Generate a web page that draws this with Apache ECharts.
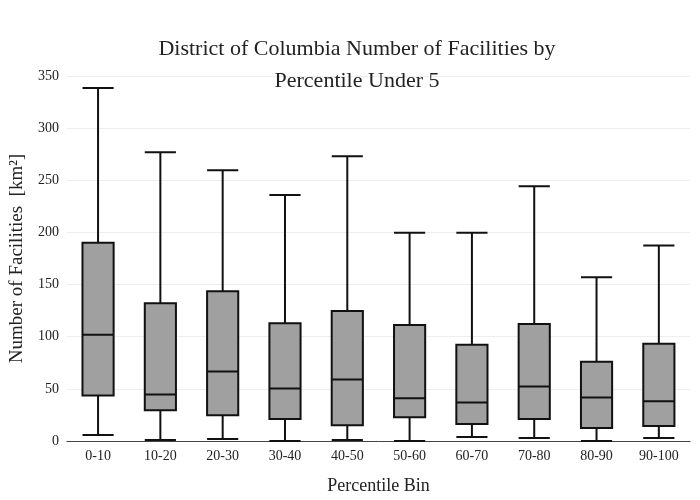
<!DOCTYPE html>
<html><head><meta charset="utf-8">
<script src="https://cdn.jsdelivr.net/npm/echarts@6/dist/echarts.min.js"></script>
<style>html,body{margin:0;padding:0;background:#fff}#c{width:700px;height:500px}</style>
</head><body><div id="c"></div>
<script>
const categories = ['0-10','10-20','20-30','30-40','40-50','50-60','60-70','70-80','80-90','90-100'];
const lowVals    = [5.7, 1, 2, 0, 1, 0, 3.8, 2.9, 0, 2.9];
const q1Vals     = [43.7, 29.5, 24.7, 21, 15.2, 22.8, 16.2, 21, 12.4, 14.3];
const medianVals = [101.8, 44.7, 66.6, 50.4, 59, 40.9, 37, 52.3, 41.8, 38];
const q3Vals     = [190, 132, 143.6, 113, 124.6, 111.3, 92.3, 112.2, 76, 93.2];
const highVals   = [338.6, 276.8, 259.6, 235.9, 273, 199.7, 199.7, 244.4, 157, 187.4];
const yTicks = [0, 50, 100, 150, 200, 250, 300, 350];

const data = categories.map((c,i)=>[lowVals[i],q1Vals[i],medianVals[i],q3Vals[i],highVals[i]]);
const font = 'Liberation Serif';
const chart = echarts.init(document.getElementById('c'));
chart.setOption({
  animation:false,
  textStyle:{fontFamily:font},
  title:{text:'District of Columbia Number of Facilities by\nPercentile Under 5',left:352,top:28,textAlign:'center',
    textStyle:{fontFamily:font,fontSize:22,fontWeight:'normal',color:'#222',lineHeight:32}},
  grid:{left:60,right:10,top:76,bottom:56},
  xAxis:{type:'category',data:categories,
    name:'Percentile Bin',nameLocation:'middle',nameGap:36,nameTextStyle:{fontFamily:font,fontSize:18,color:'#222'},
    axisLine:{lineStyle:{color:'#444'}},axisTick:{show:false},
    axisLabel:{fontFamily:font,fontSize:14,color:'#222'}},
  yAxis:{type:'value',min:0,max:350,interval:50,
    name:'Number of Facilities  [km²]',nameLocation:'middle',nameGap:38,nameTextStyle:{fontFamily:font,fontSize:19,color:'#222'},
    axisLine:{show:false},axisTick:{show:false},
    splitLine:{lineStyle:{color:'#eee'}},
    axisLabel:{fontFamily:font,fontSize:14,color:'#222'}},
  series:[{type:'boxplot',data:data,boxWidth:['50%','50%'],
    itemStyle:{color:'#a0a0a0',borderColor:'#111',borderWidth:2}}]
});
</script></body></html>
